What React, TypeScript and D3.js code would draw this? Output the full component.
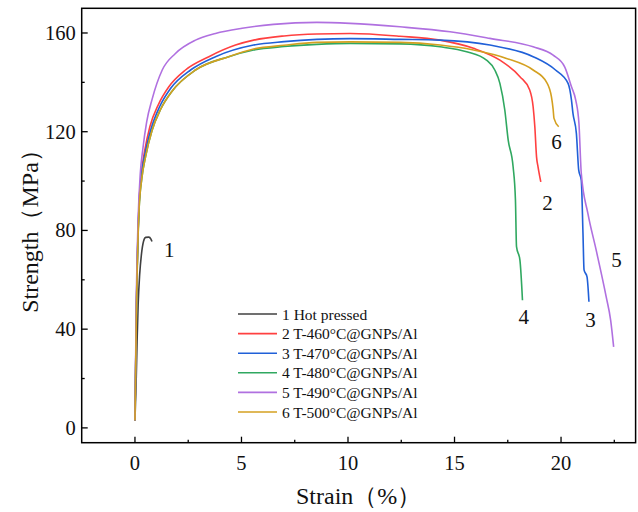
import React from "react";
import * as d3 from "d3";

// strain (%) vs strength (MPa)
const hotPressed: [number, number][] = [
  [0, 3], [0.06, 20], [0.1, 35], [0.15, 50], [0.22, 62], [0.3, 70], [0.4, 75.5],
  [0.5, 77.2], [0.65, 77.3], [0.75, 76.5], [0.8, 75.5],
];
const t460: [number, number][] = [
  [0, 3], [0.07, 50], [0.19, 90], [0.3, 103], [0.45, 112], [0.7, 122], [1.1, 131],
  [1.59, 138.2], [2.37, 145], [3.47, 150.4], [4.72, 155.1], [5.57, 157.1], [7, 158.8],
  [8.54, 159.6], [10.1, 159.8], [12.44, 158.7], [14.32, 157.1], [15.89, 153.8],
  [17.13, 149], [18.07, 142.3], [18.53, 136.9], [18.69, 130.1], [18.77, 122],
  [18.85, 109.8], [18.92, 105.8], [19.05, 99.7],
];
const t470: [number, number][] = [
  [0, 3], [0.07, 50], [0.19, 90], [0.3, 102], [0.47, 111], [0.75, 121], [1.15, 130],
  [1.67, 137.5], [2.61, 145], [3.78, 150.4], [5.57, 155.1], [7, 156.5], [8.54, 157.4],
  [10.1, 157.7], [12.44, 157.4], [14.32, 157.1], [16.66, 155.1], [18.69, 150.4],
  [19.74, 145], [20.33, 139.6], [20.49, 132.8], [20.56, 127.4], [20.72, 119.3],
  [20.83, 104.4], [20.95, 100.4], [21.03, 78.8], [21.08, 64], [21.22, 61.2], [21.31, 51.1],
];
const t480: [number, number][] = [
  [0, 3], [0.07, 48], [0.19, 88], [0.32, 101], [0.5, 110], [0.8, 120.5], [1.2, 129],
  [1.75, 136.5], [2.84, 145], [4.4, 150.4], [5.57, 153.1], [7, 154.5], [8.54, 155.4],
  [10.1, 155.8], [12.44, 155.6], [14.32, 154.4], [15.57, 152.4], [16.5, 149],
  [16.89, 145], [17.13, 139.6], [17.36, 128.8], [17.52, 116.6], [17.75, 105.8],
  [17.86, 92.3], [17.91, 73.4], [18.07, 68], [18.19, 51.7],
];
const t490: [number, number][] = [
  [0, 3], [0.06, 50], [0.15, 85], [0.25, 103], [0.37, 113], [0.55, 124], [0.8, 133],
  [1.28, 145], [1.9, 151.7], [2.84, 157.1], [3.78, 159.8], [5.03, 161.9],
  [6.5, 163.5], [8.54, 164.3], [10.1, 163.9], [12.44, 162.5], [14.79, 160.5],
  [16.66, 157.8], [18.69, 154.4], [19.63, 151], [20.17, 146.3], [20.49, 138.2],
  [20.69, 132.8], [20.84, 123.4], [20.95, 103.1], [21.26, 86.9], [21.65, 72],
  [22.12, 53.1], [22.33, 43.6], [22.47, 32.8],
];
const t500: [number, number][] = [
  [0, 3], [0.07, 48], [0.19, 88], [0.32, 101], [0.5, 110], [0.8, 120.5], [1.2, 129],
  [1.75, 136.5], [2.84, 145], [4.4, 150.4], [5.57, 153.5], [7, 155], [8.54, 156.2],
  [10.1, 156.4], [12.44, 156.2], [14.32, 155.1], [15.89, 153.1], [17.44, 149.7],
  [18.69, 145], [19.31, 140.2], [19.55, 134.1], [19.63, 129], [19.67, 125.4], [19.89, 122],
];

const seriesNames = [
  "1 Hot pressed",
  "2 T-460°C@GNPs/Al",
  "3 T-470°C@GNPs/Al",
  "4 T-480°C@GNPs/Al",
  "5 T-490°C@GNPs/Al",
  "6 T-500°C@GNPs/Al",
];
const seriesData = [hotPressed, t460, t470, t480, t490, t500];
const seriesColors = ["#404040", "#ff4040", "#2060d8", "#30a860", "#b070e0", "#d4a020"];

// curve number labels next to the curve ends
const endLabels: { text: string; x: number; y: number }[] = [
  { text: "1", x: 1.61, y: 72 },
  { text: "2", x: 19.37, y: 91 },
  { text: "6", x: 19.79, y: 116 },
  { text: "4", x: 18.25, y: 45 },
  { text: "3", x: 21.38, y: 43.6 },
  { text: "5", x: 22.6, y: 67.9 },
];

const xMajor = [0, 5, 10, 15, 20];
const xMinor = [2.5, 7.5, 12.5, 17.5, 22.5];
const yMajor = [0, 40, 80, 120, 160];
const yMinor = [20, 60, 100, 140];

const W = 638, H = 512;
const left = 81.7, right = 635.6, top = 8.3, bottom = 442.7;
const serif = { fontFamily: "'Liberation Serif', 'Times New Roman', serif" };

export default function App() {
  const x = d3.scaleLinear().domain([-2.5, 23.5]).range([left, right]);
  const y = d3.scaleLinear().domain([-6, 170]).range([bottom, top]);
  const line = d3.line<[number, number]>()
    .x(d => x(d[0]))
    .y(d => y(d[1]))
    .curve(d3.curveMonotoneX);

  const legX = 238, legY = 314, legStep = 19.6;

  return (
    <svg width={W} height={H} style={{ position: "absolute", left: 0, top: 0 }}>
      <rect x={0} y={0} width={W} height={H} fill="#fff" />
      {seriesData.map((d, i) => (
        <path key={i} d={line(d) || ""} fill="none" stroke={seriesColors[i]} strokeWidth={1.6} />
      ))}
      {endLabels.map(l => (
        <text key={l.text} x={x(l.x)} y={y(l.y)} style={serif} fontSize={21} textAnchor="middle" dominantBaseline="central" fill="#111">
          {l.text}
        </text>
      ))}
      {/* legend */}
      {seriesNames.map((n, i) => (
        <g key={n}>
          <line x1={legX} x2={legX + 39} y1={legY + i * legStep} y2={legY + i * legStep} stroke={seriesColors[i]} strokeWidth={1.6} />
          <text x={legX + 44} y={legY + i * legStep} style={serif} fontSize={15.5} dominantBaseline="central" fill="#111">{n}</text>
        </g>
      ))}
      {/* frame */}
      <rect x={left} y={top} width={right - left} height={bottom - top} fill="none" stroke="#000" strokeWidth={1.5} />
      {/* x ticks */}
      {xMajor.map(t => (
        <g key={"x" + t}>
          <line x1={x(t)} x2={x(t)} y1={bottom} y2={bottom - 6} stroke="#000" strokeWidth={1.3} />
          <text x={x(t)} y={bottom + 20} style={serif} fontSize={20.5} textAnchor="middle" dominantBaseline="central" fill="#111">{t}</text>
        </g>
      ))}
      {xMinor.map(t => (
        <line key={"xm" + t} x1={x(t)} x2={x(t)} y1={bottom} y2={bottom - 3} stroke="#000" strokeWidth={1.3} />
      ))}
      {/* y ticks */}
      {yMajor.map(t => (
        <g key={"y" + t}>
          <line x1={left} x2={left + 6} y1={y(t)} y2={y(t)} stroke="#000" strokeWidth={1.3} />
          <text x={left - 6} y={y(t)} style={serif} fontSize={20.5} textAnchor="end" dominantBaseline="central" fill="#111">{t}</text>
        </g>
      ))}
      {yMinor.map(t => (
        <line key={"ym" + t} x1={left} x2={left + 3} y1={y(t)} y2={y(t)} stroke="#000" strokeWidth={1.3} />
      ))}
      {/* axis titles */}
      <text x={(left + right) / 2} y={496} style={serif} fontSize={24} textAnchor="middle" dominantBaseline="central" fill="#111">Strain（%）</text>
      <text transform={`translate(30,${(top + bottom) / 2}) rotate(-90)`} style={serif} fontSize={24} textAnchor="middle" dominantBaseline="central" fill="#111">
        Strength（MPa）
      </text>
    </svg>
  );
}
